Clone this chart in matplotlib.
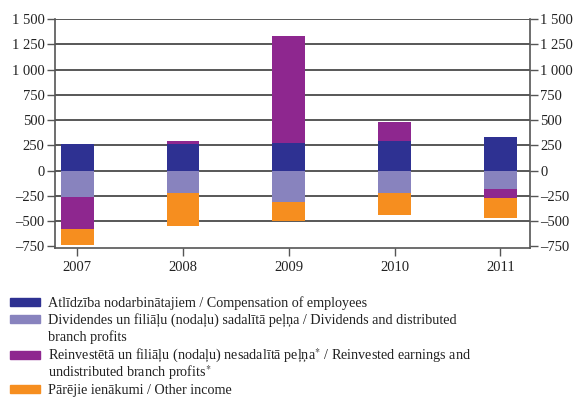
import numpy as np
import matplotlib
matplotlib.use("Agg")
import matplotlib.pyplot as plt
from matplotlib.patches import Rectangle
from matplotlib.ticker import FixedLocator, FuncFormatter

plt.rcParams['font.family'] = ['Liberation Serif', 'DejaVu Serif']
plt.rcParams['mathtext.fontset'] = 'stix'

years = ['2007', '2008', '2009', '2010', '2011']
compensation = [265, 265, 278, 298, 328]
dividends = [-258, -218, -308, -218, -179]
reinvested = [-318, 33, 1056, 179, -89]
other_income = [-156, -328, -189, -216, -199]

series = [compensation, dividends, reinvested, other_income]
colors = ['#2E3192', '#8883BE', '#8E278F', '#F68E1F']
labels = [
    ['Atlīdzība nodarbinātajiem / Compensation of employees'],
    ['Dividendes un filiāļu (nodaļu) sadalītā peļņa / Dividends and distributed',
     'branch profits'],
    ['Reinvestētā un filiāļu (nodaļu) nesadalītā peļņa$^{*}$ / Reinvested earnings and',
     'undistributed branch profits$^{*}$'],
    ['Pārējie ienākumi / Other income'],
]

fig = plt.figure(figsize=(5.79, 4.0), dpi=100)
ax = fig.add_axes([55 / 579, 1 - 247.5 / 400, 475 / 579, 228.5 / 400])

x = np.arange(len(years))
pos = np.zeros(len(years))
neg = np.zeros(len(years))
for vals, c in zip(series, colors):
    v = np.array(vals, dtype=float)
    bottom = np.where(v >= 0, pos, neg)
    ax.bar(x, v, 0.31, bottom=bottom, color=c, zorder=3)
    pos += np.where(v >= 0, v, 0)
    neg += np.where(v < 0, v, 0)

ax.set_xlim(-0.21, 4.28)
ax.set_ylim(-760, 1500)
yt = np.arange(-750, 1501, 250)
ax.yaxis.set_major_locator(FixedLocator(yt))


def fmt(v, _):
    s = f"{abs(v):,.0f}".replace(",", " ")
    return ("\u2013" + s) if v < 0 else s


ax.yaxis.set_major_formatter(FuncFormatter(fmt))
for y in yt[1:]:
    ax.axhline(y, color='#4a4a4a', lw=1.3, zorder=1)

ax.set_xticks(x)
ax.set_xticklabels(years)
ax.tick_params(axis='both', labelsize=10.5, colors='#555555', labelcolor='#222222',
               length=5.5, width=1)
ax.tick_params(axis='y', right=True, labelright=True, pad=2)
ax.tick_params(axis='x', pad=4)
ax.spines['top'].set_visible(False)
for s in ['left', 'right', 'bottom']:
    ax.spines[s].set_color('#555555')
    ax.spines[s].set_linewidth(1.2)

# legend below the plot, one text per line
rows = [301.7, 319, 355, 389]
line_step = 17.2
for lines, c, ry in zip(labels, colors, rows):
    fig.add_artist(Rectangle((10 / 579, 1 - (ry + 4) / 400), 30 / 579, 8 / 400,
                             transform=fig.transFigure, color=c))
    for i, line in enumerate(lines):
        fig.text(48 / 579, 1 - (ry + 5 + i * line_step) / 400, line, fontsize=10.2,
                 color='#222222', va='baseline', ha='left')

fig.savefig('out.png', dpi=100)
